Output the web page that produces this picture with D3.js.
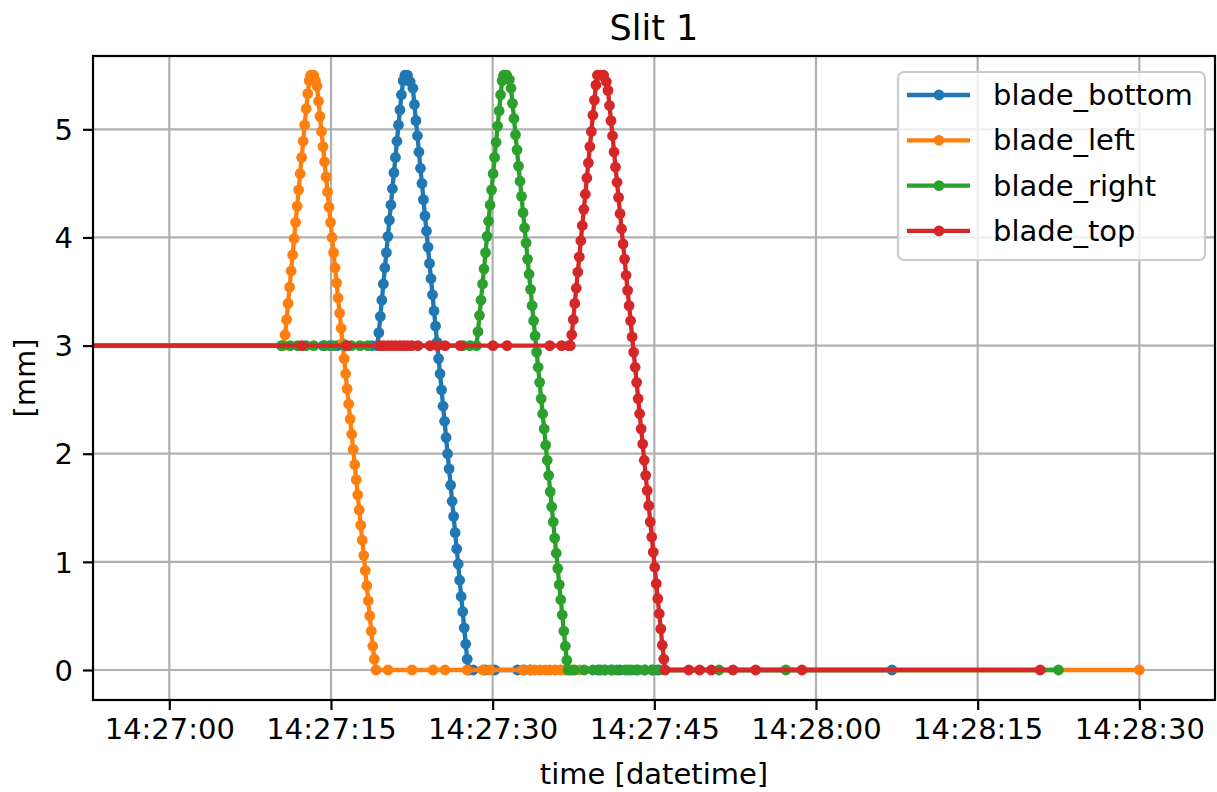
<!DOCTYPE html>
<html>
<head>
<meta charset="utf-8">
<script src="https://cdn.jsdelivr.net/npm/d3@7"></script>
<style>
  body { margin: 0; background: #fff; }
  svg { display: block; font-family: "DejaVu Sans", sans-serif; }
</style>
</head>
<body>
<div id="plot"></div>
<script>
// seconds after 14:27:00, and blade position in mm
const bottomTime = [-10, 14.27, 14.90, 15.60, 18.80,
  19.30, 19.44, 19.58, 19.72, 19.86, 20.00, 20.14, 20.28, 20.42, 20.56, 20.70, 20.84, 20.98, 21.12, 21.26, 21.40, 21.54, 21.70, 21.86, 22.10, 22.35,
  22.60, 22.74, 22.88, 23.02, 23.16, 23.30, 23.44, 23.58, 23.72, 23.86, 24.00, 24.14, 24.28, 24.42, 24.56, 24.70, 24.84, 24.98, 25.12, 25.26,
  25.40, 25.54, 25.68, 25.82, 25.96, 26.10, 26.24, 26.38, 26.52, 26.66, 26.80, 26.94, 27.08, 27.22, 27.36, 27.50, 27.64, 27.80,
  28.20, 29.30, 30.20, 32.30, 32.90, 33.50, 39.80, 40.40, 41.10, 41.80, 42.60, 43.30, 44.10, 44.80, 45.30, 67.05];
const bottomMm = [3, 3, 3, 3, 3,
  3.00, 3.12, 3.27, 3.42, 3.57, 3.72, 3.86, 4.01, 4.16, 4.30, 4.45, 4.60, 4.74, 4.89, 5.04, 5.18, 5.32, 5.45, 5.50, 5.50, 5.44,
  5.38, 5.23, 5.08, 4.94, 4.79, 4.64, 4.50, 4.35, 4.20, 4.06, 3.91, 3.76, 3.62, 3.47, 3.32, 3.18, 3.03, 2.88, 2.74, 2.59,
  2.44, 2.30, 2.15, 2.00, 1.86, 1.71, 1.56, 1.42, 1.27, 1.12, 0.98, 0.83, 0.68, 0.54, 0.39, 0.24, 0.10, 0.00,
  0, 0, 0, 0, 0, 0, 0, 0, 0, 0, 0, 0, 0, 0, 0, 0];

const leftTime = [-10,
  10.60, 10.74, 10.88, 11.02, 11.16, 11.30, 11.44, 11.58, 11.72, 11.86, 12.00, 12.14, 12.28, 12.42, 12.56, 12.70, 12.84, 12.98, 13.12, 13.40, 13.55,
  13.70, 13.84, 13.98, 14.12, 14.26, 14.40, 14.54, 14.68, 14.82, 14.96, 15.10, 15.24, 15.38, 15.52, 15.66, 15.80, 15.94, 16.08, 16.22, 16.36,
  16.50, 16.64, 16.78, 16.92, 17.06, 17.20, 17.34, 17.48, 17.62, 17.76, 17.90, 18.04, 18.18, 18.32, 18.46, 18.60, 18.74, 18.88, 19.02, 19.18,
  20.29, 22.52, 24.47, 25.58, 27.62, 29.10, 29.75, 32.80, 33.50, 33.90, 34.40, 34.90, 35.30, 35.80, 36.30, 36.70, 37.40, 38.10, 90.00];
const leftMm = [3,
  3.00, 3.10, 3.24, 3.39, 3.54, 3.69, 3.84, 3.99, 4.14, 4.29, 4.44, 4.59, 4.74, 4.89, 5.04, 5.19, 5.33, 5.45, 5.50, 5.50, 5.45,
  5.40, 5.26, 5.12, 4.98, 4.84, 4.70, 4.56, 4.42, 4.28, 4.14, 4.00, 3.86, 3.72, 3.58, 3.44, 3.30, 3.16, 3.02, 2.88, 2.74,
  2.60, 2.46, 2.32, 2.18, 2.04, 1.90, 1.76, 1.62, 1.48, 1.34, 1.20, 1.06, 0.92, 0.78, 0.64, 0.50, 0.36, 0.22, 0.10, 0.00,
  0, 0, 0, 0, 0, 0, 0, 0, 0, 0, 0, 0, 0, 0, 0, 0, 0, 0, 0];

const rightTime = [-10, 10.40, 11.20, 11.90, 12.70, 13.40, 14.40, 15.20, 16.30, 16.90, 17.70, 18.40, 27.25, 27.90,
  28.50, 28.64, 28.78, 28.92, 29.06, 29.20, 29.34, 29.48, 29.62, 29.76, 29.90, 30.04, 30.18, 30.32, 30.46, 30.60, 30.74, 30.88, 31.02, 31.30, 31.55,
  31.70, 31.84, 31.98, 32.12, 32.26, 32.40, 32.54, 32.68, 32.82, 32.96, 33.10, 33.24, 33.38, 33.52, 33.66, 33.80, 33.94, 34.08, 34.22, 34.36,
  34.50, 34.64, 34.78, 34.92, 35.06, 35.20, 35.34, 35.48, 35.62, 35.76, 35.90, 36.04, 36.18, 36.32, 36.46, 36.60, 36.74, 36.88, 37.00,
  37.20, 37.60, 38.50, 39.30, 40.00, 40.40, 41.00, 41.50, 42.30, 42.90, 43.50, 44.10, 44.80, 45.50, 51.00, 57.20, 82.50];
const rightMm = [3, 3, 3, 3, 3, 3, 3, 3, 3, 3, 3, 3, 3, 3,
  3.00, 3.13, 3.28, 3.42, 3.57, 3.71, 3.86, 4.01, 4.15, 4.30, 4.44, 4.59, 4.74, 4.88, 5.03, 5.17, 5.32, 5.45, 5.50, 5.50, 5.46,
  5.38, 5.24, 5.10, 4.95, 4.81, 4.66, 4.52, 4.38, 4.23, 4.09, 3.95, 3.80, 3.66, 3.52, 3.37, 3.23, 3.09, 2.94, 2.80, 2.66,
  2.51, 2.37, 2.23, 2.08, 1.94, 1.80, 1.65, 1.51, 1.37, 1.22, 1.08, 0.94, 0.79, 0.65, 0.51, 0.36, 0.22, 0.09, 0.00,
  0, 0, 0, 0, 0, 0, 0, 0, 0, 0, 0, 0, 0, 0, 0, 0, 0];

const topTime = [-10, 12.30, 16.50, 19.55, 19.90, 20.30, 20.65, 21.00, 21.40, 21.75, 22.10, 22.50, 23.07, 24.20, 24.85, 25.58, 27.00, 30.03, 31.33, 35.30, 36.40, 37.05,
  37.20, 37.34, 37.48, 37.62, 37.76, 37.90, 38.04, 38.18, 38.32, 38.46, 38.60, 38.74, 38.88, 39.02, 39.16, 39.30, 39.44, 39.58, 39.72, 40.00, 40.30, 40.55,
  40.70, 40.84, 40.98, 41.12, 41.26, 41.40, 41.54, 41.68, 41.82, 41.96, 42.10, 42.24, 42.38, 42.52, 42.66, 42.80, 42.94, 43.08, 43.22, 43.36,
  43.50, 43.64, 43.78, 43.92, 44.06, 44.20, 44.34, 44.48, 44.62, 44.76, 44.90, 45.04, 45.18, 45.32, 45.46, 45.60, 45.74, 45.88, 46.00,
  48.20, 49.20, 50.30, 52.30, 54.40, 58.70, 80.80];
const topMm = [3, 3, 3, 3, 3, 3, 3, 3, 3, 3, 3, 3, 3, 3, 3, 3, 3, 3, 3, 3, 3, 3,
  3.00, 3.10, 3.24, 3.39, 3.53, 3.68, 3.82, 3.97, 4.11, 4.26, 4.40, 4.55, 4.69, 4.84, 4.98, 5.13, 5.27, 5.41, 5.50, 5.50, 5.50, 5.44,
  5.36, 5.22, 5.08, 4.94, 4.79, 4.65, 4.51, 4.37, 4.22, 4.08, 3.94, 3.80, 3.65, 3.51, 3.37, 3.23, 3.08, 2.94, 2.80, 2.66,
  2.51, 2.37, 2.23, 2.09, 1.94, 1.80, 1.66, 1.52, 1.37, 1.23, 1.09, 0.95, 0.80, 0.66, 0.52, 0.38, 0.23, 0.10, 0.00,
  0, 0, 0, 0, 0, 0, 0];

const seriesNames = ["blade_bottom", "blade_left", "blade_right", "blade_top"];
const seriesColors = ["#1f77b4", "#ff7f0e", "#2ca02c", "#d62728"];
const yTicks = [0, 1, 2, 3, 4, 5];

const baseTime = new Date(2024, 0, 1, 14, 27, 0);
const toDate = s => new Date(baseTime.getTime() + s * 1000);

const series = [
  [bottomTime, bottomMm],
  [leftTime, leftMm],
  [rightTime, rightMm],
  [topTime, topMm]
].map(([t, v], i) => ({
  name: seriesNames[i],
  color: seriesColors[i],
  points: t.map((s, j) => ({ time: toDate(s), mm: v[j] }))
}));

const width = 1217, height = 792;
const margin = { top: 56, right: 2, bottom: 92, left: 93 };
const plotW = width - margin.left - margin.right;
const plotH = height - margin.top - margin.bottom;
const fontSize = 29;

const x = d3.scaleTime()
  .domain([toDate(-7.08), toDate(97.02)])
  .range([0, plotW]);
const y = d3.scaleLinear()
  .domain([-0.2775, 5.678])
  .range([plotH, 0]);

const svg = d3.select("#plot").append("svg")
  .attr("width", width)
  .attr("height", height);

svg.append("defs").append("clipPath").attr("id", "clip")
  .append("rect").attr("width", plotW).attr("height", plotH);

const g = svg.append("g").attr("transform", `translate(${margin.left},${margin.top})`);

const xTicks = x.ticks(d3.timeSecond.every(15));

// grid
g.append("g").selectAll("line.vgrid")
  .data(xTicks).enter().append("line")
  .attr("x1", d => x(d)).attr("x2", d => x(d))
  .attr("y1", 0).attr("y2", plotH)
  .attr("stroke", "#b0b0b0").attr("stroke-width", 2.2);
g.append("g").selectAll("line.hgrid")
  .data(yTicks).enter().append("line")
  .attr("x1", 0).attr("x2", plotW)
  .attr("y1", d => y(d)).attr("y2", d => y(d))
  .attr("stroke", "#b0b0b0").attr("stroke-width", 2.2);

// series
const line = d3.line().x(d => x(d.time)).y(d => y(d.mm));
const data = g.append("g").attr("clip-path", "url(#clip)");
series.forEach(s => {
  const sg = data.append("g");
  sg.append("path")
    .datum(s.points)
    .attr("d", line)
    .attr("fill", "none")
    .attr("stroke", s.color)
    .attr("stroke-width", 4.3)
    .attr("stroke-linejoin", "round")
    .attr("stroke-linecap", "square");
  sg.selectAll("circle")
    .data(s.points).enter().append("circle")
    .attr("cx", d => x(d.time))
    .attr("cy", d => y(d.mm))
    .attr("r", 5.4)
    .attr("fill", s.color);
});

// axes
const xAxis = g.append("g").attr("transform", `translate(0,${plotH})`)
  .call(d3.axisBottom(x).tickValues(xTicks).tickFormat(d3.timeFormat("%H:%M:%S")).tickSize(10).tickPadding(8));
const yAxis = g.append("g")
  .call(d3.axisLeft(y).tickValues(yTicks).tickFormat(d3.format("d")).tickSize(10).tickPadding(10));
[xAxis, yAxis].forEach(a => {
  a.select(".domain").remove();
  a.selectAll(".tick line").attr("stroke", "#000").attr("stroke-width", 2.2);
  a.selectAll(".tick text").attr("font-size", fontSize).attr("fill", "#000")
    .attr("font-family", "DejaVu Sans");
});
yAxis.selectAll(".tick text").attr("dy", "0.35em");

// spines
g.append("rect")
  .attr("width", plotW).attr("height", plotH)
  .attr("fill", "none").attr("stroke", "#000").attr("stroke-width", 2.2);

// labels
svg.append("text")
  .attr("x", margin.left + plotW / 2).attr("y", 40)
  .attr("text-anchor", "middle").attr("font-size", 35)
  .text("Slit 1");
svg.append("text")
  .attr("x", margin.left + plotW / 2).attr("y", 784)
  .attr("text-anchor", "middle").attr("font-size", fontSize)
  .text("time [datetime]");
svg.append("text")
  .attr("transform", `translate(35,${margin.top + plotH / 2}) rotate(-90)`)
  .attr("text-anchor", "middle").attr("font-size", fontSize)
  .text("[mm]");

// legend
const legend = svg.append("g").attr("transform", "translate(898,72)");
legend.append("rect")
  .attr("width", 307).attr("height", 188).attr("rx", 6)
  .attr("fill", "#fff").attr("fill-opacity", 0.8)
  .attr("stroke", "#cccccc").attr("stroke-width", 2.2);
series.forEach((s, i) => {
  const row = legend.append("g").attr("transform", `translate(0,${23 + i * 45.3})`);
  row.append("line").attr("x1", 9).attr("x2", 72)
    .attr("stroke", s.color).attr("stroke-width", 4.3);
  row.append("circle").attr("cx", 41).attr("r", 5.4).attr("fill", s.color);
  row.append("text").attr("x", 95).attr("dy", "0.35em")
    .attr("font-size", fontSize).text(s.name);
});
</script>
</body>
</html>
